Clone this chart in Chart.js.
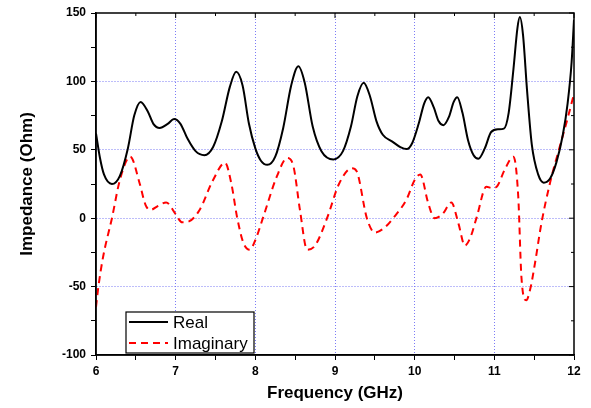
<!DOCTYPE html>
<html lang="en">
<head>
    <meta charset="UTF-8">
    <title>Impedance vs Frequency</title>
    <script src="https://cdn.jsdelivr.net/npm/chart.js"></script>
    <style>
        html, body {
            margin: 0;
            padding: 0;
            background: #ffffff;
        }
        #wrap {
            width: 591px;
            height: 408px;
        }
    </style>
</head>
<body>
    <div id="wrap"><canvas id="grafico"></canvas></div>

    <script>
        // Real part of the impedance (GHz, Ohm)
        const realFreq = [6.00, 6.05, 6.10, 6.20, 6.30, 6.40, 6.48, 6.56, 6.65, 6.72, 6.80, 6.90, 6.98, 7.06, 7.15,
            7.25, 7.36, 7.47, 7.58, 7.68, 7.76, 7.84, 7.92, 8.00, 8.07, 8.15, 8.25, 8.35, 8.45, 8.54,
            8.62, 8.72, 8.83, 8.98, 9.10, 9.20, 9.28, 9.36, 9.44, 9.52, 9.60, 9.72, 9.82, 9.90, 9.97,
            10.05, 10.12, 10.17, 10.24, 10.30, 10.36, 10.43, 10.49, 10.535, 10.60, 10.67, 10.74, 10.80, 10.88, 10.96,
            11.05, 11.12, 11.18, 11.24, 11.29, 11.32, 11.36, 11.41, 11.47, 11.55, 11.62, 11.70, 11.78, 11.86, 11.92,
            11.97, 12.00];
        const realZ = [62, 44, 32, 25, 31, 51, 75, 85, 78, 69, 66, 69, 72.5, 69, 58,
            49, 46, 52, 71, 96, 107, 97, 69, 51, 42, 39, 45, 66, 97, 111,
            99, 67, 49, 43, 49, 67, 89, 99, 89, 71, 61, 56, 52, 50.5, 55,
            69, 84, 88.5, 81, 71, 68, 74, 85, 88.5, 77, 57, 46, 43.5, 51, 63,
            65, 65.5, 77, 109, 139, 147, 134, 94, 54, 32, 26, 29, 41, 61, 84,
            114, 145];

        // Imaginary part of the impedance (GHz, Ohm)
        const imagFreq = [6.00, 6.03, 6.09, 6.20, 6.30, 6.43, 6.55, 6.62, 6.68, 6.78, 6.88, 7.00, 7.08, 7.16, 7.30,
            7.47, 7.62, 7.70, 7.77, 7.85, 7.93, 8.00, 8.10, 8.27, 8.40, 8.48, 8.56, 8.65, 8.75, 8.90,
            9.05, 9.21, 9.27, 9.40, 9.50, 9.62, 9.73, 9.90, 10.00, 10.07, 10.17, 10.25, 10.35, 10.46, 10.55,
            10.63, 10.70, 10.78, 10.90, 10.97, 11.03, 11.13, 11.24, 11.30, 11.34, 11.40, 11.45, 11.51, 11.59, 11.70,
            11.82, 11.92, 12.00];
        const imagZ = [-65, -50, -28, 0, 28, 45, 25, 10, 6, 9, 11.5, 3, -3, -2.5, 6,
            28, 40.5, 25, 1, -18, -23, -16, 1, 30.5, 44, 37.5, 6, -23, -20, 0,
            25, 36.5, 34.5, 0, -10.5, -7, 0, 14, 28, 32, 11, 0, 3, 11.5, -4,
            -20, -14, 1, 23, 22, 23, 35.5, 45, 16, -43, -60, -52, -33, -4, 26,
            52, 73, 91];

        const xTicks = [6, 7, 8, 9, 10, 11, 12];
        const yTicks = [-100, -50, 0, 50, 100, 150];

        const seriesLabels = ['Real', 'Imaginary'];

        const gridBlue = '#7b7bf5';
        const fontFam = 'Arial, "Liberation Sans", sans-serif';

        // marco completo con marcas interiores arriba y a la derecha + leyenda dentro del área
        const framePlugin = {
            id: 'frame',
            afterDraw(chart) {
                const { ctx, chartArea: a, scales: { x, y } } = chart;
                ctx.save();
                ctx.strokeStyle = '#000';
                ctx.lineWidth = 1.5;
                ctx.setLineDash([]);
                ctx.strokeRect(a.left, a.top, a.right - a.left, a.bottom - a.top);

                ctx.lineWidth = 1;
                ctx.beginPath();
                x.ticks.forEach(t => {
                    const px = x.getPixelForValue(t.value);
                    const len = xTicks.includes(t.value) ? 5 : 3;
                    ctx.moveTo(px, a.top);
                    ctx.lineTo(px, a.top + len);
                });
                y.ticks.forEach(t => {
                    const py = y.getPixelForValue(t.value);
                    const len = yTicks.includes(t.value) ? 5 : 3;
                    ctx.moveTo(a.right, py);
                    ctx.lineTo(a.right - len, py);
                });
                ctx.stroke();

                // leyenda
                const bx = a.left + 30, by = a.bottom - 43, bw = 128, bh = 41;
                ctx.fillStyle = '#fff';
                ctx.fillRect(bx, by, bw, bh);
                ctx.lineWidth = 1.2;
                ctx.strokeRect(bx, by, bw, bh);
                ctx.font = '17px ' + fontFam;
                ctx.textBaseline = 'middle';
                chart.data.datasets.forEach((ds, i) => {
                    const ry = by + 10 + i * 21;
                    ctx.strokeStyle = ds.borderColor;
                    ctx.lineWidth = ds.borderWidth;
                    ctx.setLineDash(ds.borderDash || []);
                    ctx.beginPath();
                    ctx.moveTo(bx + 3, ry);
                    ctx.lineTo(bx + 42, ry);
                    ctx.stroke();
                    ctx.setLineDash([]);
                    ctx.fillStyle = '#000';
                    ctx.fillText(ds.label, bx + 47, ry + 1);
                });
                ctx.restore();
            }
        };

        const grafico = new Chart(document.getElementById('grafico').getContext('2d'), {
            type: 'line',
            data: {
                datasets: [
                    {
                        label: seriesLabels[0],
                        data: realFreq.map((f, i) => ({ x: f, y: realZ[i] })),
                        borderColor: '#000000',
                        borderWidth: 2,
                        pointRadius: 0,
                        cubicInterpolationMode: 'monotone',
                        fill: false
                    },
                    {
                        label: seriesLabels[1],
                        data: imagFreq.map((f, i) => ({ x: f, y: imagZ[i] })),
                        borderColor: '#ff0000',
                        borderWidth: 2,
                        borderDash: [7, 5],
                        pointRadius: 0,
                        cubicInterpolationMode: 'monotone',
                        fill: false
                    }
                ]
            },
            options: {
                responsive: true,
                maintainAspectRatio: false,
                animation: false,
                layout: { padding: { left: 0, right: 17, top: 13, bottom: 0 } },
                plugins: {
                    legend: { display: false },
                    tooltip: { enabled: false }
                },
                scales: {
                    x: {
                        type: 'linear',
                        min: 6,
                        max: 12,
                        afterFit: s => { s.height = 53; },
                        afterBuildTicks: s => {
                            s.ticks = [];
                            for (let v = 6; v <= 12.001; v += 0.5) s.ticks.push({ value: Math.round(v * 10) / 10 });
                        },
                        ticks: {
                            autoSkip: false,
                            maxRotation: 0,
                            padding: 4,
                            color: '#000',
                            font: { family: fontFam, size: 12, weight: 'bold' },
                            callback: v => xTicks.includes(v) ? String(v) : ''
                        },
                        grid: {
                            color: c => (c.tick && xTicks.includes(c.tick.value) && c.tick.value !== 6 && c.tick.value !== 12) ? gridBlue : 'rgba(0,0,0,0)',
                            lineWidth: 1,
                            tickColor: '#000',
                            tickLength: 5,
                            tickWidth: 1
                        },
                        border: { display: true, color: '#000', width: 1.5, dash: [1, 2] },
                        title: {
                            display: true,
                            text: 'Frequency (GHz)',
                            color: '#000',
                            font: { family: fontFam, size: 17, weight: 'bold' },
                            padding: { top: 0, bottom: 4 }
                        }
                    },
                    y: {
                        min: -100,
                        max: 150,
                        afterFit: s => { s.width = 96; },
                        afterBuildTicks: s => {
                            s.ticks = [];
                            for (let v = -100; v <= 150; v += 25) s.ticks.push({ value: v });
                        },
                        ticks: {
                            autoSkip: false,
                            padding: 5,
                            color: '#000',
                            font: { family: fontFam, size: 12, weight: 'bold' },
                            callback: v => yTicks.includes(v) ? String(v) : ''
                        },
                        grid: {
                            color: c => (c.tick && yTicks.includes(c.tick.value) && c.tick.value !== -100 && c.tick.value !== 150) ? gridBlue : 'rgba(0,0,0,0)',
                            lineWidth: 1,
                            tickColor: '#000',
                            tickLength: 5,
                            tickWidth: 1
                        },
                        border: { display: true, color: '#000', width: 1.5, dash: [1, 2] },
                        title: {
                            display: true,
                            text: 'Impedance (Ohm)',
                            color: '#000',
                            font: { family: fontFam, size: 17, weight: 'bold' },
                            padding: { top: 17, bottom: 0 }
                        }
                    }
                }
            },
            plugins: [framePlugin]
        });
    </script>
</body>
</html>
